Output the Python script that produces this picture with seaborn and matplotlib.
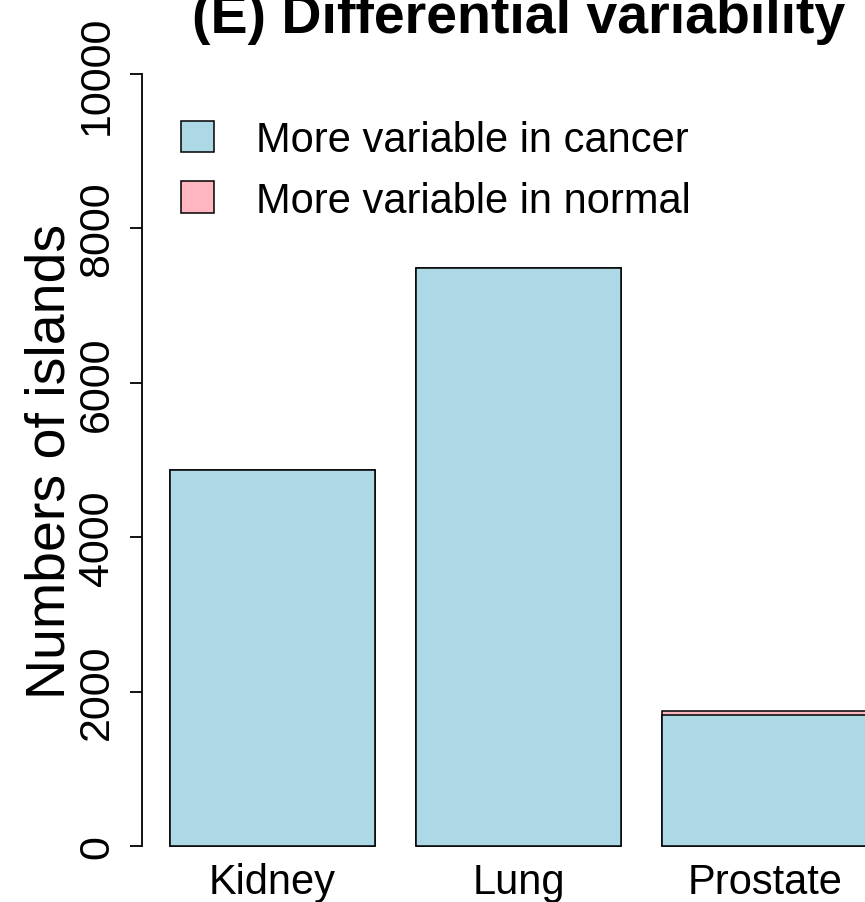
import matplotlib
matplotlib.use("Agg")
import matplotlib.pyplot as plt
import seaborn as sns
import numpy as np
from matplotlib.patches import Patch

categories = ["Kidney", "Lung", "Prostate"]
cancer = [4875, 7485, 1700]
normal = [0, 0, 50]
legend_labels = ["More variable in cancer", "More variable in normal"]
yticks = [0, 2000, 4000, 6000, 8000, 10000]

sns.set_style("white")
plt.rcParams["font.family"] = ["Liberation Sans", "DejaVu Sans"]
plt.rcParams["text.color"] = "black"
plt.rcParams["axes.labelcolor"] = "black"
plt.rcParams["xtick.color"] = "black"
plt.rcParams["ytick.color"] = "black"

blue = "#ADD8E6"
pink = "#FFB6C1"

fig = plt.figure(figsize=(8.65, 9.03), dpi=100)
W, H = 865, 903
ax = fig.add_axes([142 / W, (H - 878) / H, (895 - 142) / W, (878 - 44) / H])

total = [c + n for c, n in zip(cancer, normal)]
sns.barplot(x=categories, y=total, color=pink, saturation=1, width=1 / 1.2,
            edgecolor="black", linewidth=1.1, ax=ax)
sns.barplot(x=categories, y=cancer, color=blue, saturation=1, width=1 / 1.2,
            edgecolor="black", linewidth=1.1, ax=ax)

ax.set_xlim(-0.53, 2.53)
ax.set_ylim(-400, 10400)
for s in ["top", "right", "bottom"]:
    ax.spines[s].set_visible(False)
ax.spines["left"].set_bounds(0, 10000)
ax.spines["left"].set_linewidth(1.3)
ax.spines["left"].set_color("black")

ax.set_yticks(yticks)
ax.set_yticklabels([str(v) for v in yticks], rotation=90, va="center")
ax.tick_params(axis="y", left=True, length=9, width=1.3, color="black",
               labelcolor="black", labelsize=31, pad=9)
ax.tick_params(axis="x", length=0, labelsize=30, pad=-10.5, labelcolor="black")
ax.set_xlabel("")
ax.set_ylabel("Numbers of islands", fontsize=40, labelpad=0.5, color="black")

ax.set_title("(E) Differential variability", fontsize=40, fontweight="bold",
             pad=8, color="black")

handles = [Patch(facecolor=blue, edgecolor="black", linewidth=1.1),
           Patch(facecolor=pink, edgecolor="black", linewidth=1.1)]
ax.legend(handles, legend_labels, loc="upper left",
          bbox_to_anchor=(181 / W, 1 - 121 / H), bbox_transform=fig.transFigure,
          frameon=False, fontsize=30, handlelength=0.8, handleheight=0.8,
          handletextpad=1.0, labelspacing=0.5, borderpad=0, borderaxespad=0)

fig.savefig("out.png", dpi=100)
